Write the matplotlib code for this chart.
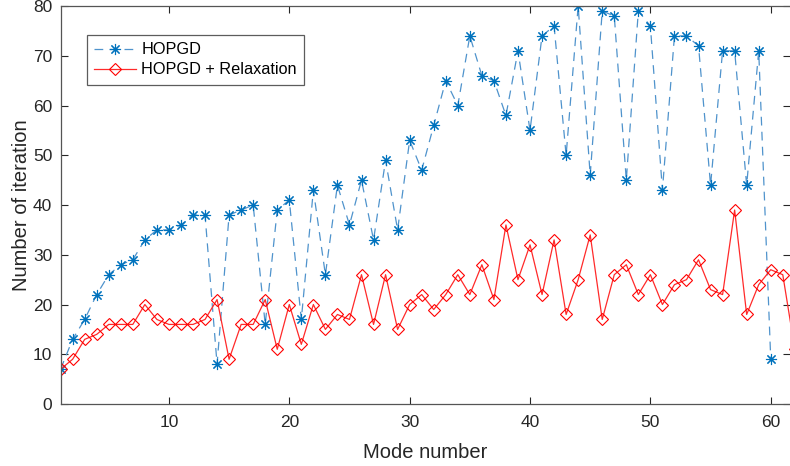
import matplotlib
matplotlib.use('Agg')
import matplotlib.pyplot as plt

plt.rcParams['font.family'] = ['Liberation Sans', 'DejaVu Sans']

# HOPGD (modes 1..60)
hopgd = [7, 13, 17, 22, 26, 28, 29, 33, 35, 35,
         36, 38, 38, 8, 38, 39, 40, 16, 39, 41,
         17, 43, 26, 44, 36, 45, 33, 49, 35, 53,
         47, 56, 65, 60, 74, 66, 65, 58, 71, 55,
         74, 76, 50, 80, 46, 79, 78, 45, 79, 76,
         43, 74, 74, 72, 44, 71, 71, 44, 71, 9]
# HOPGD + Relaxation (modes 1..62)
relax = [7, 9, 13, 14, 16, 16, 16, 20, 17, 16,
         16, 16, 17, 21, 9, 16, 16, 21, 11, 20,
         12, 20, 15, 18, 17, 26, 16, 26, 15, 20,
         22, 19, 22, 26, 22, 28, 21, 36, 25, 32,
         22, 33, 18, 25, 34, 17, 26, 28, 22, 26,
         20, 24, 25, 29, 23, 22, 39, 18, 24, 27,
         26, 11]
modes_h = list(range(1, len(hopgd) + 1))
modes_r = list(range(1, len(relax) + 1))

fig = plt.figure(figsize=(7.9, 4.66), dpi=100)
ax = fig.add_axes([0.0767, 0.133, 0.9233, 0.854])

ax.plot(modes_h, hopgd, linestyle=(0, (7, 5)), lw=0.9, color='#4f93cc',
        marker=(8, 2, 0), markersize=8, markeredgecolor='#0072BD',
        markeredgewidth=0.8, label='HOPGD')
ax.plot(modes_r, relax, linestyle='-', lw=0.9, color='#ff2a2a',
        marker='D', markersize=6.5, markerfacecolor='none',
        markeredgecolor='red', markeredgewidth=0.8,
        label='HOPGD + Relaxation')

ax.set_xlim(1, 61.6)
ax.set_ylim(0, 80)
ax.set_xticks([10, 20, 30, 40, 50, 60])
ax.set_yticks(range(0, 81, 10))
ax.tick_params(direction='in', length=5, width=0.8, colors='#262626',
               labelsize=12.5, top=True, right=True)
ax.tick_params(axis='x', pad=8)
ax.tick_params(axis='y', pad=6)
for s in ax.spines.values():
    s.set_color('#555555')
    s.set_linewidth(0.9)
ax.spines['right'].set_visible(False)

ax.set_xlabel('Mode number', fontsize=14.5, color='#262626', labelpad=9)
ax.set_ylabel('Number of iteration', fontsize=14.5, color='#262626', labelpad=1)

leg = ax.legend(loc='upper left', bbox_to_anchor=(0.036, 0.927), fontsize=11.7,
                frameon=True, fancybox=False, handlelength=2.6,
                borderpad=0.45, labelspacing=0.3, handletextpad=0.3,
                borderaxespad=0)
leg.get_frame().set_edgecolor('#333333')
leg.get_frame().set_linewidth(0.9)

fig.savefig('out.png', dpi=100)
